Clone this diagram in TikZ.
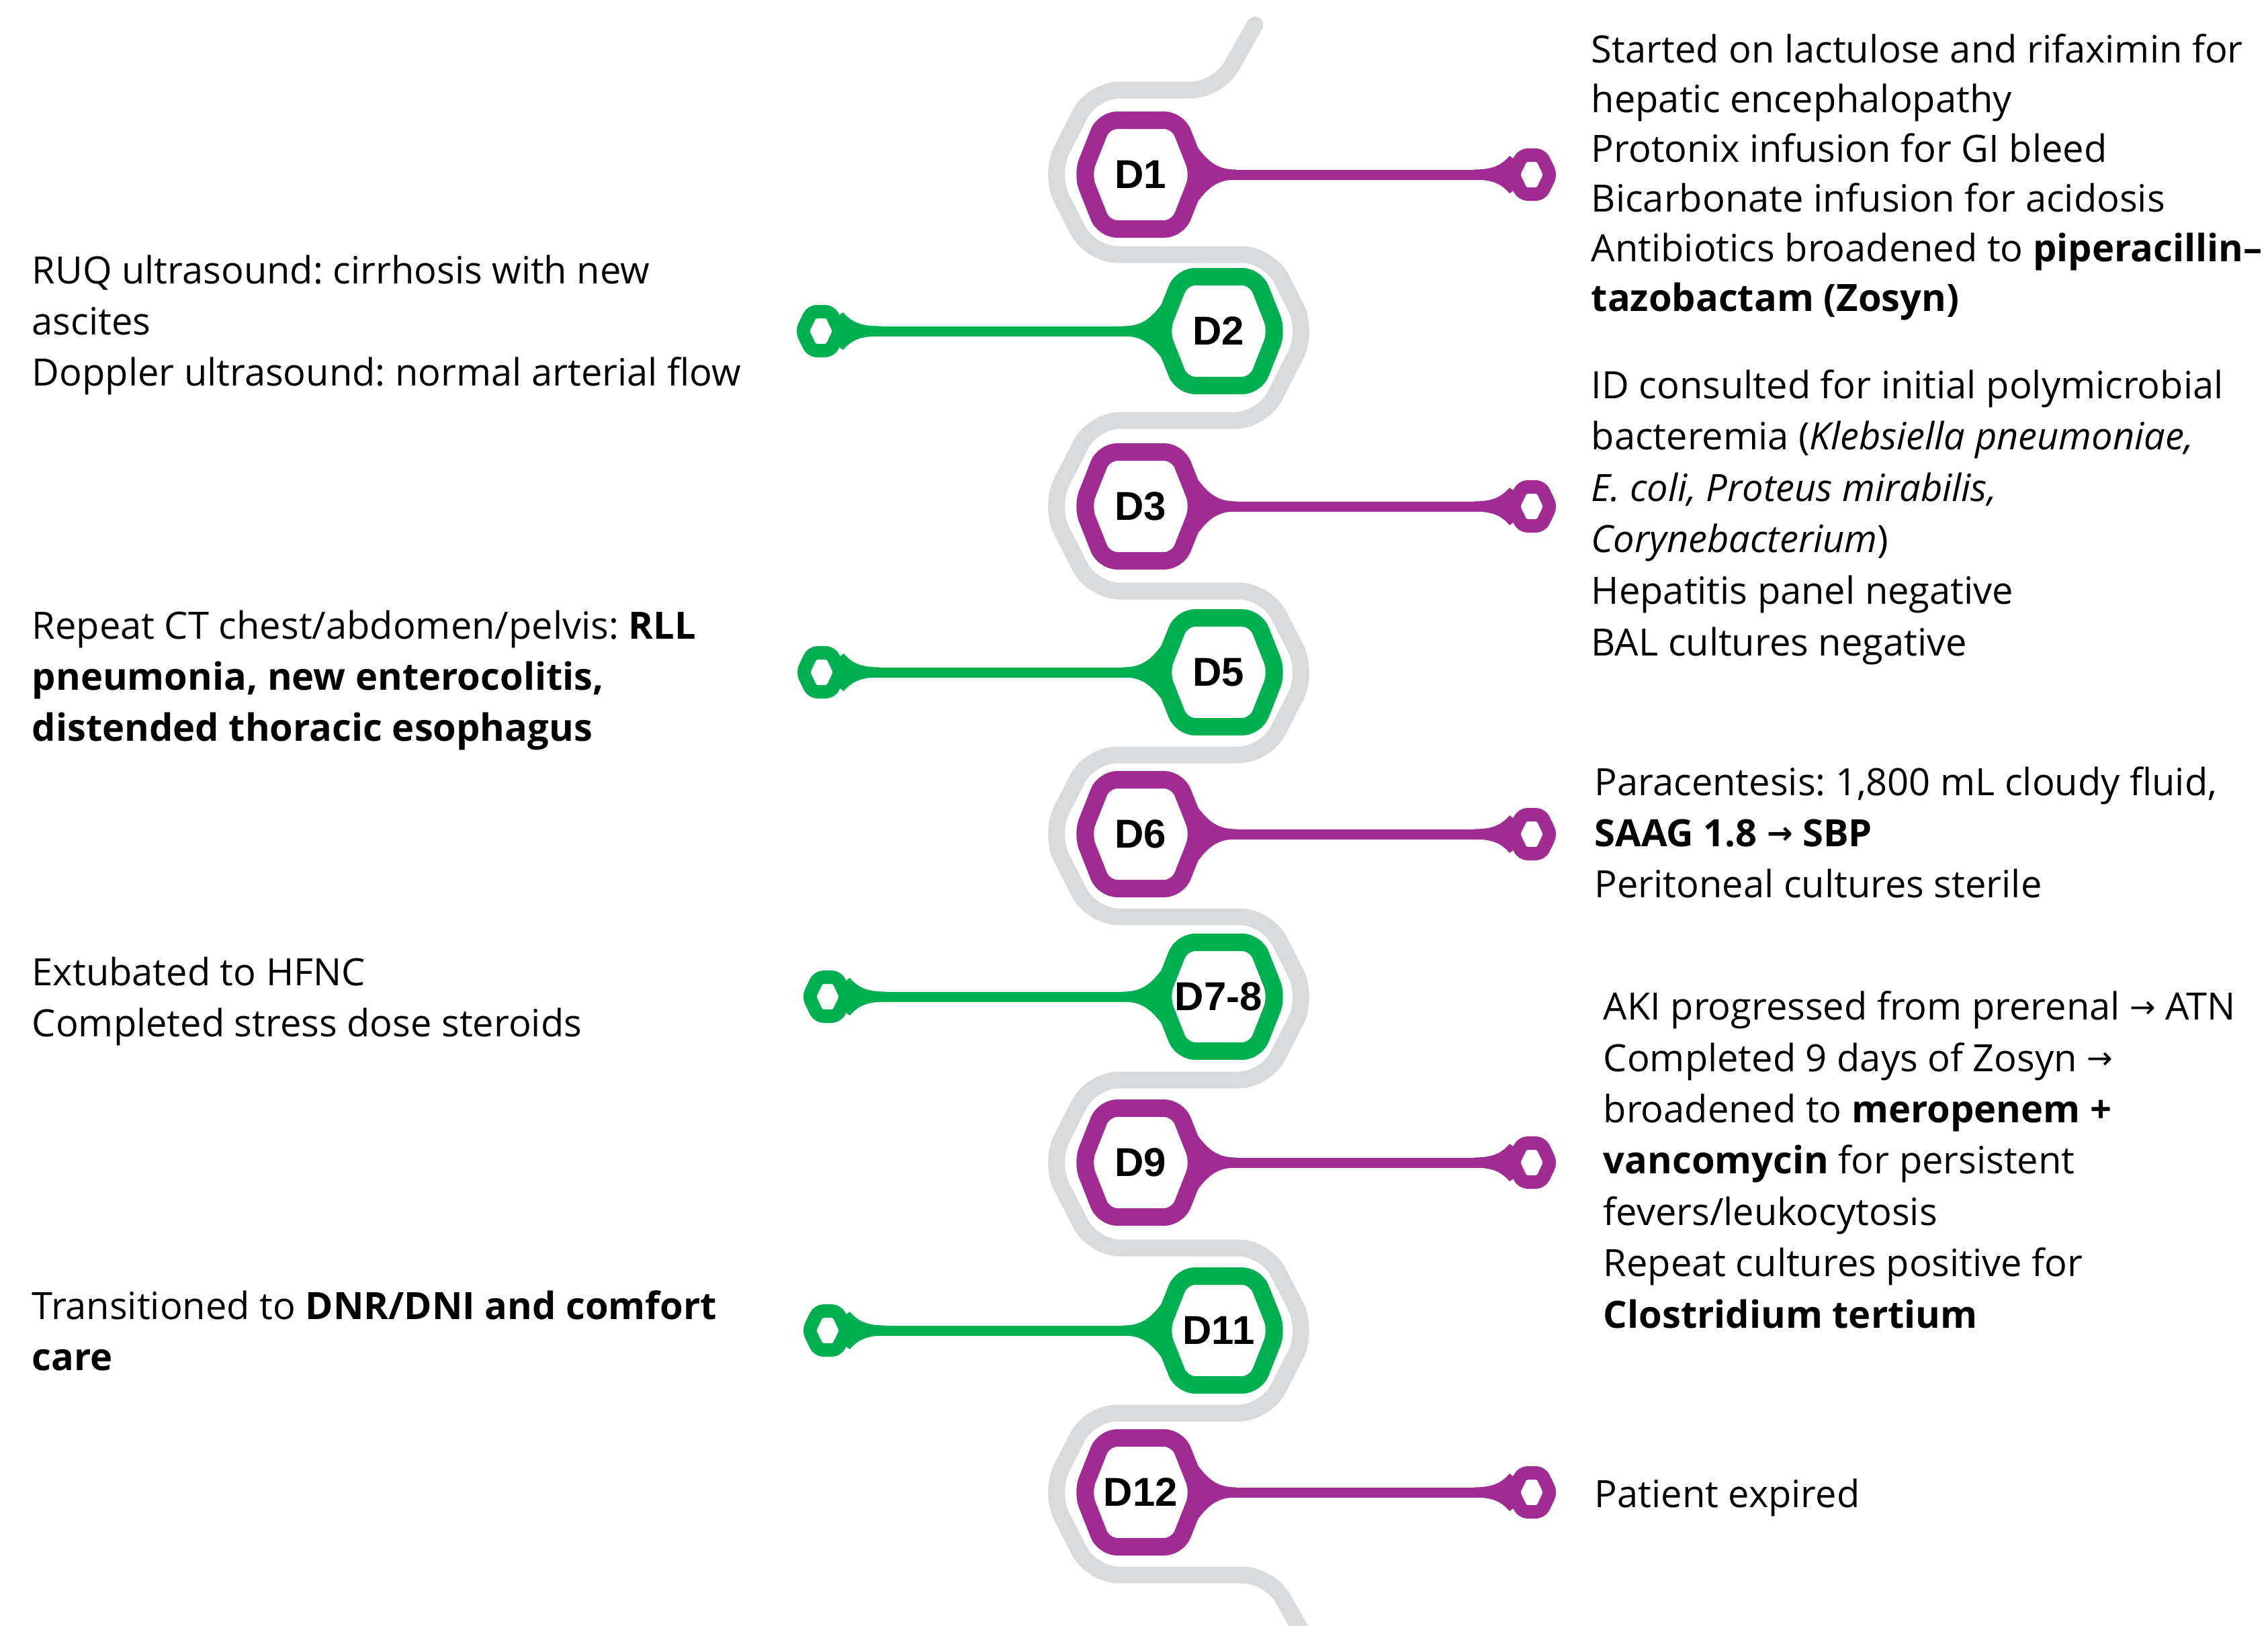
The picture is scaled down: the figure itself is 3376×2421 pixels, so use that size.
\documentclass[tikz,border=0pt]{standalone}
\usepackage{fontspec}
\setmainfont{Open Sans}
\newfontfamily\labelfont{Liberation Sans}
\newfontfamily\arrowfont{DejaVu Sans}
\pgfdeclarelayer{bgl}
\pgfdeclarelayer{shp}
\pgfsetlayers{bgl,shp,main}
\definecolor{dpurple}{RGB}{160,43,147}
\definecolor{dgreen}{RGB}{0,176,80}
\definecolor{dgray}{RGB}{217,218,220}
\newcommand{\arr}{\raisebox{0.9pt}{\arrowfont\fontsize{11.5}{11.5}\selectfont →}}
\frenchspacing
\tikzset{
  daylabel/.style={font=\labelfont\bfseries\fontsize{15}{15}\selectfont, inner sep=0pt},
  conn/.style={draw=#1, line width=3.75pt},
  hexline/.style={draw=#1, fill=white, line width=6.5pt, rounded corners=5pt},
  capline/.style={draw=#1, fill=white, line width=5pt, rounded corners=2pt},
  graypath/.style={draw=dgray, line width=6.25pt, line cap=round, line join=round, rounded corners=10pt},
  txt/.style={anchor=base west, inner sep=0pt, align=left, font=\frenchspacing\fontsize{14}{18.9}\selectfont},
}
\begin{document}
\begin{tikzpicture}[x=0.25pt, y=-0.25pt]
\useasboundingbox (0,0) rectangle (3376,2421);

% grey serpentine spine
\begin{pgfonlayer}{bgl}
\draw[graypath] (1868,37) -- (1813,134) -- (1626,134) -- (1562,260) -- (1623,379) -- (1889,379)
  -- (1947,493) -- (1879,626) -- (1627,626) -- (1562,754) -- (1626,880) -- (1885,880)
  -- (1947,1001) -- (1884,1124) -- (1622,1124) -- (1562,1242) -- (1625,1365) -- (1886,1365)
  -- (1947,1484) -- (1884,1608) -- (1625,1608) -- (1562,1731) -- (1627,1858) -- (1884,1858)
  -- (1947,1981) -- (1884,2104) -- (1622,2104) -- (1562,2222) -- (1625,2345) -- (1890,2345)
  -- (1961,2471);
\end{pgfonlayer}

\foreach \nm/\lab/\px/\py/\ex/\dr/\col in {
  1/D1/1698/260/2280/1/dpurple,
  2/D2/1814/493/1222/-1/dgreen,
  3/D3/1698/754/2280/1/dpurple,
  5/D5/1814/1001/1223/-1/dgreen,
  6/D6/1698/1242/2280/1/dpurple,
  78/D7-8/1814/1484/1232/-1/dgreen,
  9/D9/1698/1731/2280/1/dpurple,
  11/D11/1814/1981/1232/-1/dgreen,
  12/D12/1698/2222/2280/1/dpurple}
{
  \node[daylabel] (d\nm) at (\px,\py) {\lab};
  \coordinate (e\nm) at (\ex,\py);
  \begin{pgfonlayer}{shp}
    \draw[conn=\col] (d\nm) -- (e\nm);
    \fill[fill=\col, shift={(d\nm.center)}, xscale=\dr]
      (62,-55) -- (80,-47) .. controls (100,-18) and (115,-7.5) .. (142,-7.5)
      -- (142,7.5) .. controls (115,7.5) and (100,18) .. (80,47) -- (62,55) -- cycle;
    \fill[fill=\col, shift={(e\nm)}, xscale=\dr]
      (-86,-7.5) .. controls (-58,-7.5) and (-45,-14) .. (-33,-28) -- (-15,-15)
      -- (-15,15) -- (-33,28) .. controls (-45,14) and (-58,7.5) .. (-86,7.5) -- cycle;
    \draw[capline=\col, shift={(e\nm)}]
      (0,-29) -- (14,-29) -- (28,0) -- (14,29) -- (-14,29) -- (-28,0) -- (-14,-29) -- cycle;
    \draw[hexline=\col, shift={(d\nm.center)}]
      (0,-81) -- (55,-81) -- (87,0) -- (55,81) -- (-55,81) -- (-87,0) -- (-55,-81) -- cycle;
  \end{pgfonlayer}
}

% right-hand texts (anchor = baseline of the last line)
\node[txt, font=\fontsize{14}{18.5}\selectfont] (t1) at (2368,463) {Started on lactulose and rifaximin for\\hepatic encephalopathy\\Protonix infusion for GI bleed\\Bicarbonate infusion for acidosis\\Antibiotics broadened to \textbf{piperacillin–}\\\textbf{tazobactam (Zosyn)}};
\node[txt, font=\fontsize{14}{19.15}\selectfont] (t3) at (2368,976) {ID consulted for initial polymicrobial\\bacteremia (\textit{Klebsiella pneumoniae,}\\\textit{E. coli, Proteus mirabilis,}\\\textit{Corynebacterium})\\Hepatitis panel negative\\BAL cultures negative};
\node[txt] (t6) at (2373,1336) {Paracentesis: 1,800 mL cloudy fluid,\\\textbf{SAAG 1.8 \arr{} SBP}\\Peritoneal cultures sterile};
\node[txt, font=\fontsize{14}{19.1}\selectfont] (t9) at (2386,1977) {AKI progressed from prerenal \arr{} ATN\\Completed 9 days of Zosyn \arr\\broadened to \textbf{meropenem +}\\\textbf{vancomycin} for persistent\\fevers/leukocytosis\\Repeat cultures positive for\\\textbf{Clostridium tertium}};
\node[txt] (t12) at (2373,2244) {Patient expired};

% left-hand texts
\node[txt] (t2) at (47,574) {RUQ ultrasound: cirrhosis with new\\ascites\\Doppler ultrasound: normal arterial flow};
\node[txt] (t5) at (47,1103) {Repeat CT chest/abdomen/pelvis: \textbf{RLL}\\\textbf{pneumonia, new enterocolitis,}\\\textbf{distended thoracic esophagus}};
\node[txt] (t78) at (47,1543) {Extubated to HFNC\\Completed stress dose steroids};
\node[txt] (t11) at (47,2040) {Transitioned to \textbf{DNR/DNI and comfort}\\\textbf{care}};
\end{tikzpicture}
\end{document}
